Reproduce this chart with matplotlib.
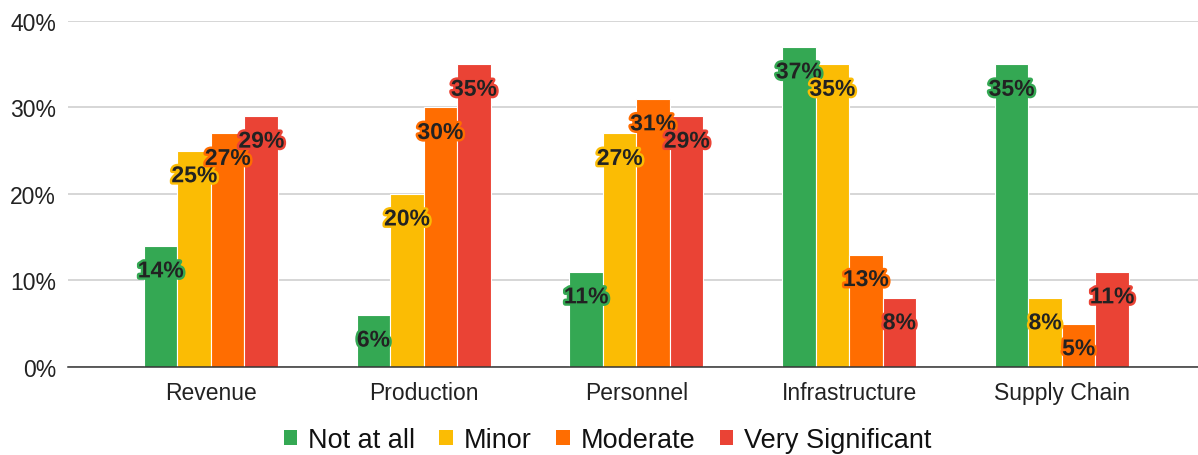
import matplotlib
matplotlib.use("Agg")
import matplotlib.pyplot as plt
import matplotlib.patheffects as pe
from matplotlib.ticker import FuncFormatter
from matplotlib.patches import Patch
import numpy as np

categories = ["Revenue", "Production", "Personnel", "Infrastructure", "Supply Chain"]
series_names = ["Not at all", "Minor", "Moderate", "Very Significant"]
not_at_all = [14, 6, 11, 37, 35]
minor = [25, 20, 27, 35, 8]
moderate = [27, 30, 31, 13, 5]
very_significant = [29, 35, 29, 8, 11]
series_values = [not_at_all, minor, moderate, very_significant]
colors = ["#34A853", "#FBBC04", "#FF6D01", "#EA4335"]

plt.rcParams["font.family"] = ["Liberation Sans", "DejaVu Sans"]

fig = plt.figure(figsize=(11.98, 4.56), dpi=100)
ax = fig.add_axes([0.0568, 0.193, 0.9432, 0.7588])

x = np.arange(len(categories))
bw = 0.1575
for i, (vals, col) in enumerate(zip(series_values, colors)):
    pos = x + (i - 1.5) * bw
    ax.bar(pos, vals, width=bw, color=col, edgecolor="white", linewidth=0.8, zorder=3)
    for px, v in zip(pos, vals):
        ax.annotate(f"{v}%", xy=(px, v), xytext=(0, -18), textcoords="offset points",
                    ha="center", va="center", fontsize=16.5, fontweight="bold",
                    color="#222222", zorder=5,
                    path_effects=[pe.withStroke(linewidth=3.5, foreground=col)])

ax.set_xlim(-0.672, 4.64)
ax.set_ylim(0, 40)
ax.set_yticks([0, 10, 20, 30, 40])
ax.yaxis.set_major_formatter(FuncFormatter(lambda v, p: f"{int(v)}%"))
ax.set_xticks(x)
ax.set_xticklabels(categories)
ax.tick_params(axis="both", length=0, labelsize=16.5, labelcolor="#222222")
ax.tick_params(axis="y", pad=8.5)
ax.tick_params(axis="x", pad=10)
ax.grid(axis="y", color="#cccccc", linewidth=1.1, zorder=0)
for s in ["top", "right", "left"]:
    ax.spines[s].set_visible(False)
ax.spines["bottom"].set_color("#333333")
ax.spines["bottom"].set_linewidth(1.1)
ax.spines["bottom"].set_zorder(4)

handles = [Patch(facecolor=c, edgecolor="none") for c in colors]
fig.legend(handles, series_names, loc="center", bbox_to_anchor=(0.507, 0.033), ncol=4,
           frameon=False, fontsize=19.5, handlelength=0.5, handleheight=0.5,
           handletextpad=0.4, columnspacing=0.9, labelcolor="#111111")

fig.savefig("out.png", dpi=100)
